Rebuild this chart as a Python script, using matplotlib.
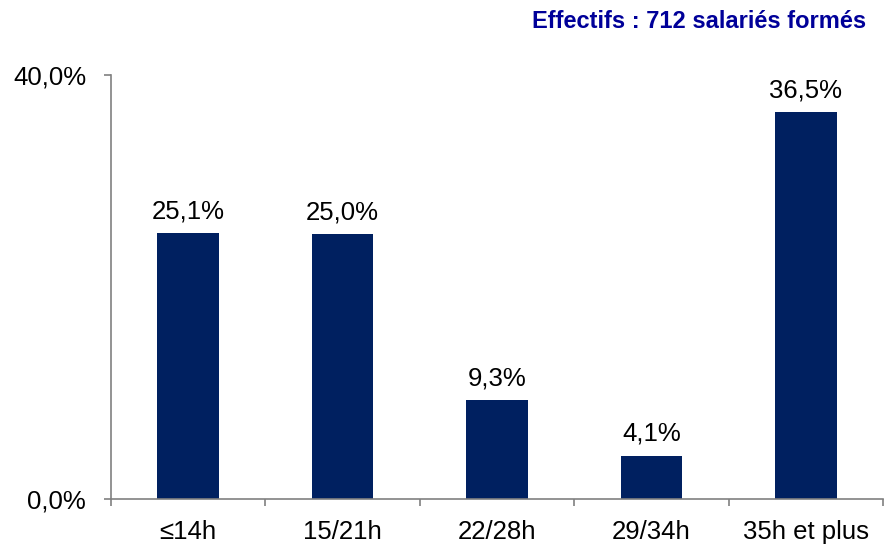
import matplotlib
matplotlib.use("Agg")
import matplotlib.pyplot as plt
import numpy as np

categories = ["≤14h", "15/21h", "22/28h", "29/34h", "35h et plus"]
values = [25.1, 25.0, 9.3, 4.1, 36.5]
value_labels = ["25,1%", "25,0%", "9,3%", "4,1%", "36,5%"]
ytick_values = [0.0, 40.0]
ytick_labels = ["0,0%", "40,0%"]
title = "Effectifs : 712 salariés formés"

plt.rcParams["font.family"] = ["Liberation Sans", "DejaVu Sans"]

fig = plt.figure(figsize=(8.91, 5.55), dpi=100)
ax = fig.add_axes([0.1246, 0.1009, 0.8664, 0.764])

x = np.arange(len(categories))
bars = ax.bar(x, values, width=0.4, color="#002060", zorder=2)

for xi, v, lab in zip(x, values, value_labels):
    ax.annotate(lab, (xi, v), xytext=(0, 7), textcoords="offset points",
                ha="center", va="bottom", fontsize=18.5, color="black")

ax.set_xlim(-0.5, len(categories) - 0.5)
ax.set_ylim(0, 40)
ax.set_yticks(ytick_values)
ax.set_yticklabels(ytick_labels, fontsize=18.5)
ax.set_xticks(x)
ax.set_xticklabels(categories, fontsize=18.5)
ax.set_xticks(np.arange(len(categories) + 1) - 0.5, minor=True)

ax.tick_params(axis="x", which="major", length=0, pad=15)
ax.tick_params(axis="x", which="minor", length=5, width=1.2, color="#808080", direction="out")
ax.tick_params(axis="y", length=5, width=1.2, color="#808080", direction="out", pad=13)

for side in ["top", "right"]:
    ax.spines[side].set_visible(False)
for side in ["left", "bottom"]:
    ax.spines[side].set_color("#808080")
    ax.spines[side].set_linewidth(1.2)

fig.text(0.972, 0.962, title, ha="right", va="center", fontsize=17,
         fontweight="bold", color="#000099")

fig.savefig("out.png", dpi=100)
